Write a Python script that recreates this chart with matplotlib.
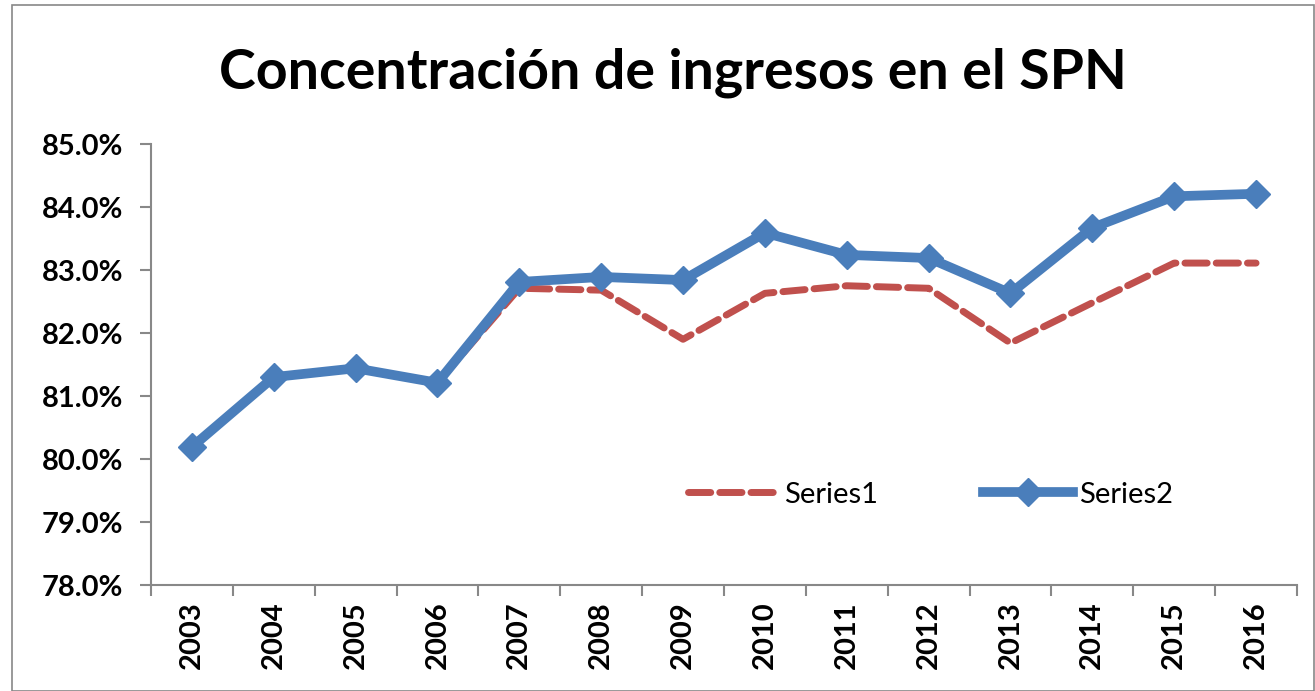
import matplotlib.pyplot as plt
from matplotlib.ticker import PercentFormatter
from matplotlib.patches import Rectangle

years = ['2003', '2004', '2005', '2006', '2007', '2008', '2009',
         '2010', '2011', '2012', '2013', '2014', '2015', '2016']
series1 = [80.19, 81.30, 81.44, 81.21, 82.71, 82.68, 81.90,
           82.63, 82.75, 82.71, 81.84, 82.48, 83.11, 83.11]
series2 = [80.19, 81.30, 81.44, 81.21, 82.81, 82.89, 82.84,
           83.59, 83.24, 83.19, 82.63, 83.67, 84.17, 84.21]

plt.rcParams.update({
    "font.family": ["Lato", "DejaVu Sans"],
})

fig = plt.figure(figsize=(13.15, 6.91), dpi=100)
ax = fig.add_axes([0.1148, 0.1534, 0.8715, 0.6382])

# outer chart border
fig.patches.append(Rectangle((0.009, 0.0), 0.99, 0.993, transform=fig.transFigure,
                             fill=False, edgecolor='#888888', linewidth=1.2))

x = list(range(len(years)))
ax.plot(x, series1, color='#C0504D', linewidth=5, linestyle=(0, (3.2, 1.3)),
        dash_capstyle='round', label='Series1')
ax.plot(x, series2, color='#4A7EBB', linewidth=7, marker='D', markersize=14,
        label='Series2')

ax.set_xlim(-0.5, len(years) - 0.5)
ax.set_ylim(78, 85)
ax.set_yticks([78, 79, 80, 81, 82, 83, 84, 85])
ax.yaxis.set_major_formatter(PercentFormatter(decimals=1))
ax.set_xticks(x)
ax.set_xticklabels(years, rotation=90)
ax.set_xticks([i - 0.5 for i in range(len(years) + 1)], minor=True)

for s in ['top', 'right']:
    ax.spines[s].set_visible(False)
for s in ['left', 'bottom']:
    ax.spines[s].set_color('#888888')
    ax.spines[s].set_linewidth(1.5)

ax.tick_params(axis='y', length=8, width=1.5, color='#888888', labelsize=21, pad=12)
ax.tick_params(axis='x', which='major', length=0, labelsize=21, pad=12)
ax.tick_params(axis='x', which='minor', length=8, width=1.5, color='#888888')
for lbl in ax.get_xticklabels() + ax.get_yticklabels():
    lbl.set_fontweight('bold')

fig.text(0.512, 0.895, 'Concentración de ingresos en el SPN', ha='center', va='center',
         fontsize=40, fontweight='bold')

ax.legend(loc='center', bbox_to_anchor=(0.68, 0.205), ncol=2, frameon=False,
          fontsize=21, handlelength=3.1, columnspacing=3.6, handletextpad=0.2)

plt.savefig('out.png', dpi=100)
